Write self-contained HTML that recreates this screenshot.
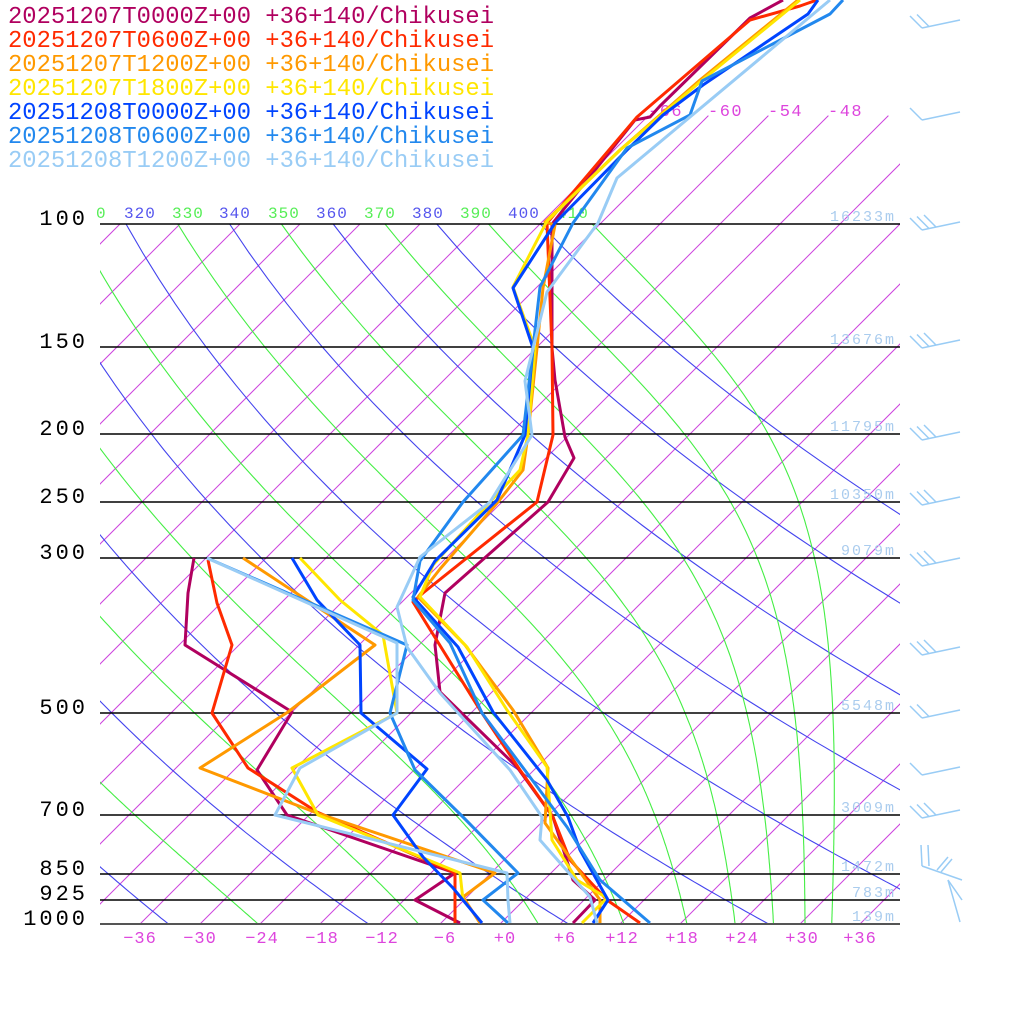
<!DOCTYPE html>
<html><head><meta charset="utf-8"><style>
html,body{margin:0;padding:0;background:#fff;width:1024px;height:1024px;overflow:hidden}
svg{display:block}
text{font-family:"Liberation Mono",monospace}
</style></head><body>
<svg id="s" width="1024" height="1024" viewBox="0 0 1024 1024" xmlns="http://www.w3.org/2000/svg">
<defs><clipPath id="c"><rect x="100" y="0" width="800" height="924"/></clipPath></defs>
<g id="grid" clip-path="url(#c)"></g>
<g stroke="#000" stroke-width="1.5">
<line x1="100" y1="224" x2="900" y2="224"/><line x1="100" y1="347" x2="900" y2="347"/>
<line x1="100" y1="434" x2="900" y2="434"/><line x1="100" y1="502" x2="900" y2="502"/>
<line x1="100" y1="558" x2="900" y2="558"/><line x1="100" y1="713" x2="900" y2="713"/>
<line x1="100" y1="815" x2="900" y2="815"/><line x1="100" y1="874" x2="900" y2="874"/>
<line x1="100" y1="900" x2="900" y2="900"/></g>
<line x1="100" y1="924" x2="900" y2="924" stroke="#555" stroke-width="2"/>
<g font-size="22" fill="#000" text-anchor="end" letter-spacing="3">
<text x="88" y="225">100</text><text x="88" y="348">150</text><text x="88" y="435">200</text>
<text x="88" y="503">250</text><text x="88" y="559">300</text><text x="88" y="714">500</text>
<text x="88" y="816">700</text><text x="88" y="875">850</text><text x="88" y="900">925</text>
<text x="88" y="925">1000</text></g>
<g font-size="16" letter-spacing="1">
<text x="96" y="218" fill="#55ee55">0</text>
<text x="124" y="218" fill="#5555ee">320</text><text x="172" y="218" fill="#55ee55">330</text>
<text x="219" y="218" fill="#5555ee">340</text><text x="268" y="218" fill="#55ee55">350</text>
<text x="316" y="218" fill="#5555ee">360</text><text x="364" y="218" fill="#55ee55">370</text>
<text x="412" y="218" fill="#5555ee">380</text><text x="460" y="218" fill="#55ee55">390</text>
<text x="508" y="218" fill="#5555ee">400</text><text x="557" y="218" fill="#55ee55">410</text>
</g>
<g font-size="17" fill="#dd44dd" letter-spacing="1.5">
<text x="648" y="116">-66</text><text x="708" y="116">-60</text><text x="768" y="116">-54</text><text x="828" y="116">-48</text>
</g>
<g font-size="17" fill="#dd44dd" text-anchor="middle" letter-spacing="1">
<text x="140" y="943">−36</text><text x="200" y="943">−30</text><text x="262" y="943">−24</text>
<text x="322" y="943">−18</text><text x="382" y="943">−12</text><text x="445" y="943">−6</text>
<text x="505" y="943">+0</text><text x="565" y="943">+6</text><text x="622" y="943">+12</text>
<text x="682" y="943">+18</text><text x="742" y="943">+24</text><text x="802" y="943">+30</text>
<text x="860" y="943">+36</text></g>
<g font-size="15" fill="#aaccee" text-anchor="end" letter-spacing="2">
<text x="896" y="221">16233m</text><text x="896" y="344">13676m</text><text x="896" y="431">11795m</text>
<text x="896" y="499">10350m</text><text x="896" y="555">9079m</text><text x="896" y="710">5548m</text>
<text x="896" y="812">3009m</text><text x="896" y="871">1472m</text><text x="896" y="897">783m</text>
<text x="896" y="921">139m</text></g>
<g fill="none" stroke-width="3" stroke-linejoin="round">
<g stroke="#b0005f">
<polyline points="783,0 750,18 660,106 650,117 635,120 552,224 552,348 555,380 565,437 574,458 548,502 445,593 435,645 440,692 517,767 553,817 573,880 595,900 573,923"/>
<polyline points="194,558 188,593 185,645 292,712 257,770 287,815 455,873 415,900 460,923"/></g>
<g stroke="#ff2a00">
<polyline points="817,0 800,6 750,20 637,117 547,223 552,348 553,435 537,502 423,593 413,602 480,710 520,770 553,817 570,860 607,900 640,923"/>
<polyline points="208,560 217,603 232,645 212,713 248,768 317,812 455,873 455,923"/></g>
<g stroke="#ff9900">
<polyline points="798,0 700,80 620,150 545,222 555,225 543,288 537,348 528,435 523,470 498,502 440,569 418,597 465,645 513,710 548,768 545,823 600,900 600,923"/>
<polyline points="243,558 375,645 288,712 200,768 317,813 495,873 463,897 480,923"/></g>
<g stroke="#ffe600">
<polyline points="800,0 700,82 620,150 547,221 513,287 535,348 528,435 520,470 490,502 433,565 420,597 467,647 507,710 547,767 552,840 577,880 607,898 582,923"/>
<polyline points="300,558 340,600 383,635 397,713 292,768 318,815 460,873 463,900"/></g>
<g stroke="#0044ff">
<polyline points="818,0 808,14 703,85 663,115 627,150 555,223 513,288 533,348 525,435 497,500 435,561 413,597 458,647 493,712 547,780 568,817 580,850 608,900 593,923"/>
<polyline points="292,558 317,600 360,645 361,713 427,769 393,815 423,857 453,888 482,923"/></g>
<g stroke="#2288ee">
<polyline points="843,0 830,14 702,81 690,115 627,148 573,223 540,287 523,435 463,502 420,561 413,600 450,643 482,713 527,773 567,827 600,880 650,923"/>
<polyline points="207,558 407,645 390,713 415,770 463,817 518,873 483,900 508,923"/></g>
<g stroke="#99ccf5">
<polyline points="830,0 617,178 598,223 547,292 525,381 532,435 490,502 420,557 397,607 407,647 440,693 510,770 542,817 540,840 590,897 597,923"/>
<polyline points="207,558 397,643 397,713 300,768 275,815 507,873 508,900 510,923"/></g>
</g>
<g id="barbs" stroke="#99ccf5" stroke-width="1.5" fill="none"></g>
<g font-size="23.8">
<text x="8" y="23" fill="#b0005f" textLength="486">20251207T0000Z+00 +36+140/Chikusei</text>
<text x="8" y="47" fill="#ff2a00" textLength="486">20251207T0600Z+00 +36+140/Chikusei</text>
<text x="8" y="71" fill="#ff9900" textLength="486">20251207T1200Z+00 +36+140/Chikusei</text>
<text x="8" y="95" fill="#ffe600" textLength="486">20251207T1800Z+00 +36+140/Chikusei</text>
<text x="8" y="119" fill="#0044ff" textLength="486">20251208T0000Z+00 +36+140/Chikusei</text>
<text x="8" y="143" fill="#2288ee" textLength="486">20251208T0600Z+00 +36+140/Chikusei</text>
<text x="8" y="167" fill="#99ccf5" textLength="486">20251208T1200Z+00 +36+140/Chikusei</text>
</g>
</svg>
<script>
(function(){
var NS="http://www.w3.org/2000/svg",g=document.getElementById("grid");
function Y(p){return 924-304*Math.log(1000/p);}
function X(T,p){return 500+10*T+(924-Y(p));}
function pl(pts,col,w){var e=document.createElementNS(NS,"polyline");e.setAttribute("points",pts.map(function(a){return a[0].toFixed(1)+","+a[1].toFixed(1)}).join(" "));e.setAttribute("fill","none");e.setAttribute("stroke",col);e.setAttribute("stroke-width",w);g.appendChild(e);}
// isotherms
for(var T=-120;T<=36;T+=6){var pt=(T>=-66)?70:100;pl([[X(T,1000),924],[X(T,pt),Y(pt)]],"#cc44dd",1);}
// dry adiabats
for(var th=220;th<=400;th+=20){var a=[];for(var p=1000;p>=100;p-=10){a.push([X(th*Math.pow(p/1000,0.2857)-273.15,p),Y(p)]);}pl(a,"#4444ee",1.1);}
// moist adiabats
var Rd=287,cp=1004,Lv=2.5e6,eps=0.622;
function rs(T,p){var es=6.112*Math.exp(17.67*(T-273.15)/(T-29.65));return eps*es/(p-es);}
for(var th=230;th<=410;th+=20){var p=100,T=th*Math.pow(0.1,0.2857),a=[[X(T-273.15,p),Y(p)]];
while(p<1000){var r=rs(T,p);var d=(Rd*T+Lv*r)/(p*(cp+Lv*Lv*r*eps/(Rd*T*T)));T+=d*1;p+=1;if(p%5==0)a.push([X(T-273.15,p),Y(p)]);}
pl(a,"#44ee44",1.1);}
// barbs
var b=document.getElementById("barbs");
function ln(x1,y1,x2,y2){var e=document.createElementNS(NS,"line");e.setAttribute("x1",x1);e.setAttribute("y1",y1);e.setAttribute("x2",x2);e.setAttribute("y2",y2);b.appendChild(e);}
var ys=[[28,2],[120,1],[230,3],[348,3],[440,3],[505,3],[566,3],[655,3],[718,2],[775,1],[818,3]];
ys.forEach(function(v){var y=v[0];ln(922,y,960,y-8);for(var k=0;k<v[1];k++){ln(922+k*7,y-1.5*k,910+k*7,y-12-1.5*k);}});
ln(921,845,922,866);ln(928,845,929,866);ln(922,866,962,880);ln(937,870,948,857);ln(941,872,952,859);ln(948,880,960,922);ln(948,880,962,900);
})();
</script>
</body></html>
